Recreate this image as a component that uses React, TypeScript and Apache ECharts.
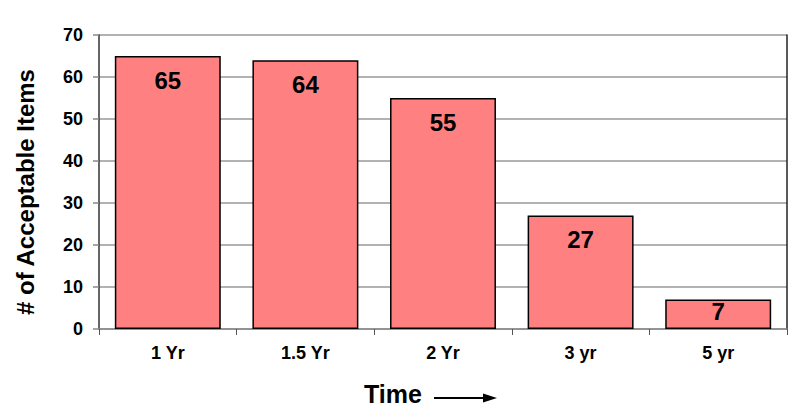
import React, { useEffect, useRef } from "react";
import * as echarts from "echarts";

const categories = ["1 Yr", "1.5 Yr", "2 Yr", "3 yr", "5 yr"];
const values = [65, 64, 55, 27, 7];
const labelDistances = [12, 12, 12, 12, 0];
const yTicks = { min: 0, max: 70, interval: 10 };
const yTitle = "# of Acceptable Items";
const xTitle = "Time";

const FONT = "Liberation Sans, Arial, sans-serif";

export default function App() {
  const ref = useRef<HTMLDivElement>(null);
  useEffect(() => {
    if (!ref.current) return;
    const chart = echarts.init(ref.current, null, { renderer: "svg" });
    chart.setOption({
      animation: false,
      backgroundColor: "#ffffff",
      grid: { left: 99, right: 13, top: 35, bottom: 91, containLabel: false },
      xAxis: {
        type: "category",
        data: categories,
        axisLine: { show: true, lineStyle: { color: "#888888", width: 1.5 } },
        axisTick: { show: true, length: 6, lineStyle: { color: "#555555" } },
        axisLabel: {
          color: "#000",
          fontFamily: FONT,
          fontWeight: "bold",
          fontSize: 18,
          margin: 15,
        },
      },
      yAxis: [
        {
          type: "value",
          min: yTicks.min,
          max: yTicks.max,
          interval: yTicks.interval,
          axisLine: { show: true, lineStyle: { color: "#333333", width: 1.5 } },
          axisTick: { show: true, length: 6, lineStyle: { color: "#888888", width: 1.5 } },
          splitLine: { show: true, lineStyle: { color: "#999999", width: 1.5 } },
          axisLabel: {
            color: "#000",
            fontFamily: FONT,
            fontWeight: "bold",
            fontSize: 18,
            margin: 16,
          },
        },
        {
          type: "value",
          position: "right",
          min: yTicks.min,
          max: yTicks.max,
          interval: yTicks.interval,
          axisLine: { show: true, lineStyle: { color: "#222222", width: 1.5 } },
          axisTick: { show: false },
          axisLabel: { show: false },
          splitLine: { show: false },
        },
      ],
      graphic: [
        {
          type: "text",
          x: 25,
          y: 192,
          rotation: Math.PI / 2,
          style: {
            text: yTitle,
            fill: "#000",
            font: `bold 24px ${FONT}`,
            textAlign: "center",
            textVerticalAlign: "middle",
          },
        },
        {
          type: "text",
          x: 393,
          y: 394,
          style: {
            text: xTitle,
            fill: "#000",
            font: `bold 25px ${FONT}`,
            textAlign: "center",
            textVerticalAlign: "middle",
          },
        },
        {
          type: "line",
          shape: { x1: 434, y1: 398, x2: 486, y2: 398 },
          style: { stroke: "#000", lineWidth: 2 },
        },
        {
          type: "polygon",
          shape: { points: [[483, 393.5], [497, 398], [483, 402.5]] },
          style: { fill: "#000" },
        },
      ],
      series: [
        {
          type: "bar",
          yAxisIndex: 0,
          barCategoryGap: "23%",
          data: values.map((v, i) => ({
            value: v,
            label: { distance: labelDistances[i] },
          })),
          itemStyle: { color: "#FF8080", borderColor: "#000", borderWidth: 1.5 },
          label: {
            show: true,
            position: "insideTop",
            color: "#000",
            fontFamily: FONT,
            fontWeight: "bold",
            fontSize: 24,
          },
        },
      ],
    });
    return () => chart.dispose();
  }, []);
  return <div ref={ref} style={{ width: 800, height: 420, position: "absolute", left: 0, top: 0 }} />;
}
